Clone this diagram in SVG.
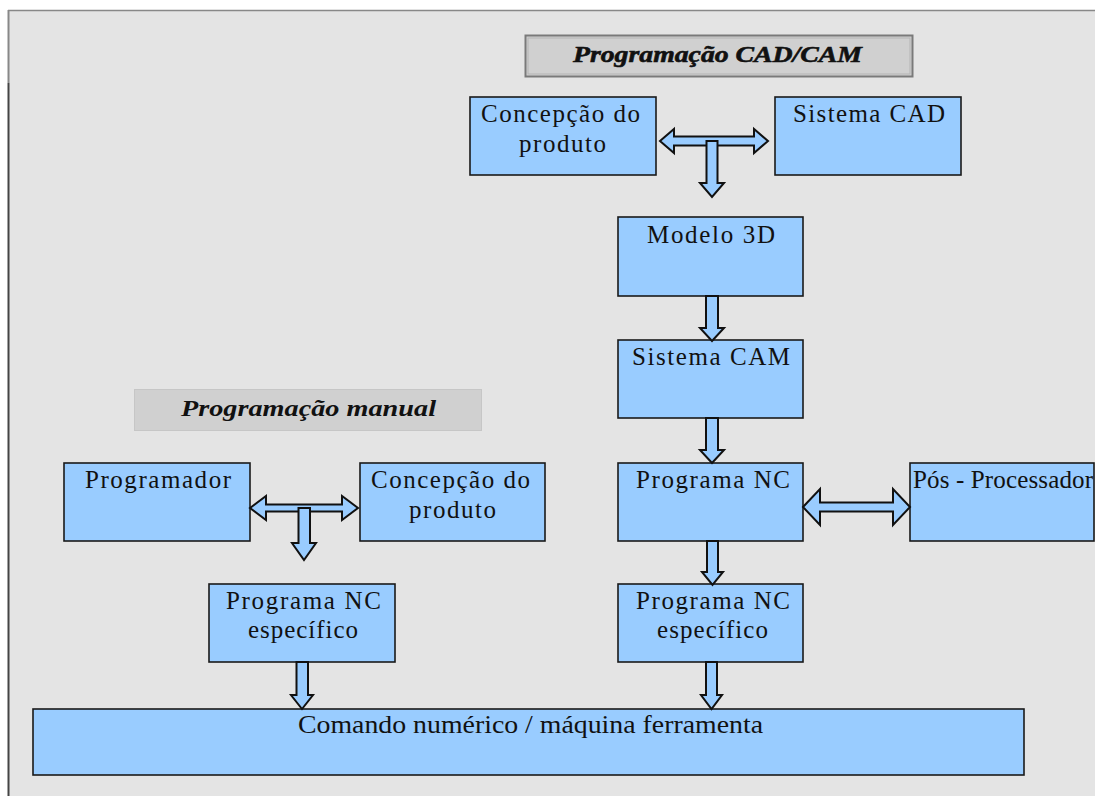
<svg xmlns="http://www.w3.org/2000/svg" width="1095" height="796" viewBox="0 0 1095 796">
<style>
.box{fill:#99ccff;stroke:#1a1a1a;stroke-width:1.6}
.arr{fill:#99ccff;stroke:#111;stroke-width:2;stroke-linejoin:miter}
.t{font-family:'Liberation Serif','DejaVu Serif',serif;font-size:25px;fill:#111}
.ti{font-family:'Liberation Serif','DejaVu Serif',serif;font-size:24px;font-style:italic;font-weight:bold;fill:#111}
</style>
<rect x="0" y="0" width="1095" height="796" fill="#ffffff"/>
<rect x="8" y="10" width="1087" height="786" fill="#e4e4e4"/>
<line x1="8" y1="10.5" x2="1095" y2="10.5" stroke="#888" stroke-width="1.5"/>
<line x1="8.5" y1="10" x2="8.5" y2="83" stroke="#888" stroke-width="2"/>
<line x1="8.5" y1="83" x2="8.5" y2="796" stroke="#444" stroke-width="2"/>

<g id="title-cadcam">
<rect x="525.5" y="35.5" width="387" height="41" fill="#d0d0d0" stroke="#7a7a7a" stroke-width="2"/>
<rect x="528" y="38" width="382" height="36" fill="none" stroke="#b4b4b4" stroke-width="1"/>
<text class="ti" x="573" y="62" textLength="289" lengthAdjust="spacingAndGlyphs" fill="#555" stroke="#111" stroke-width="0.6">Programação CAD/CAM</text>
</g>

<g id="title-manual">
<rect x="134.5" y="389.5" width="347" height="41" fill="#d0d0d0" stroke="#c6c6c6" stroke-width="1"/>
<text class="ti" x="181" y="416" textLength="255" lengthAdjust="spacingAndGlyphs">Programação manual</text>
</g>

<g id="concepcao-cad">
<rect class="box" x="470" y="97" width="186" height="78"/>
<text class="t" x="481" y="122" textLength="159" lengthAdjust="spacing">Concepção do</text>
<text class="t" x="519" y="152" textLength="87" lengthAdjust="spacing">produto</text>
</g>

<g id="sistema-cad">
<rect class="box" x="775" y="97" width="186" height="78"/>
<text class="t" x="793" y="122" textLength="152" lengthAdjust="spacing">Sistema CAD</text>
</g>

<g id="modelo-3d">
<rect class="box" x="618" y="217" width="185" height="79"/>
<text class="t" x="647" y="243" textLength="128" lengthAdjust="spacing">Modelo 3D</text>
</g>

<g id="sistema-cam">
<rect class="box" x="618" y="340" width="185" height="78"/>
<text class="t" x="632" y="365" textLength="158" lengthAdjust="spacing">Sistema CAM</text>
</g>

<g id="programa-nc">
<rect class="box" x="618" y="463" width="185" height="78"/>
<text class="t" x="636" y="488" textLength="154" lengthAdjust="spacing">Programa NC</text>
</g>

<g id="pos-processador">
<rect class="box" x="910" y="463" width="184" height="78"/>
<text class="t" x="913" y="488" textLength="180" lengthAdjust="spacing">Pós - Processador</text>
</g>

<g id="nc-especifico-cam">
<rect class="box" x="618" y="584" width="185" height="78"/>
<text class="t" x="636" y="609" textLength="154" lengthAdjust="spacing">Programa NC</text>
<text class="t" x="657" y="638" textLength="111" lengthAdjust="spacing">específico</text>
</g>

<g id="programador">
<rect class="box" x="64" y="463" width="186" height="78"/>
<text class="t" x="85" y="488" textLength="146" lengthAdjust="spacing">Programador</text>
</g>

<g id="concepcao-manual">
<rect class="box" x="360" y="463" width="185" height="78"/>
<text class="t" x="371" y="488" textLength="159" lengthAdjust="spacing">Concepção do</text>
<text class="t" x="409" y="518" textLength="87" lengthAdjust="spacing">produto</text>
</g>

<g id="nc-especifico-manual">
<rect class="box" x="209" y="584" width="186" height="78"/>
<text class="t" x="226" y="609" textLength="155" lengthAdjust="spacing">Programa NC</text>
<text class="t" x="248" y="638" textLength="110" lengthAdjust="spacing">específico</text>
</g>

<g id="comando-numerico">
<rect class="box" x="33" y="709" width="991" height="66"/>
<text class="t" x="298" y="733" textLength="465" lengthAdjust="spacingAndGlyphs">Comando numérico / máquina ferramenta</text>
</g>

<g id="connectors">
<path class="arr" d="M660,141 L674,129 L674,136.5 L754,136.5 L754,129 L768,141 L754,153 L754,145.5 L674,145.5 L674,153 Z"/>
<path class="arr" d="M706.5,141 L717.5,141 L717.5,183 L724,183 L712,197 L700,183 L706.5,183 Z"/>
<path class="arr" d="M706,296 L718,296 L718,328 L724,328 L712,341 L700,328 L706,328 Z"/>
<path class="arr" d="M706,418 L718,418 L718,450 L724,450 L712,463 L700,450 L706,450 Z"/>
<path class="arr" d="M707,541 L718,541 L718,572 L723,572 L712.5,585 L702,572 L707,572 Z"/>
<path class="arr" d="M803,507 L820,489 L820,502.5 L893,502.5 L893,489 L910,507 L893,525 L893,511.5 L820,511.5 L820,525 Z"/>
<path class="arr" d="M706,662 L717,662 L717,695 L722,695 L711.5,709 L701,695 L706,695 Z"/>
<path class="arr" d="M250,508 L266,496 L266,504.5 L342,504.5 L342,496 L358,508 L342,520 L342,511.5 L266,511.5 L266,520 Z"/>
<path class="arr" d="M298.5,508 L310,508 L310,543 L316,543 L304,560 L292,543 L298.5,543 Z"/>
<path class="arr" d="M296.5,662 L308,662 L308,695 L313,695 L302,709 L291,695 L296.5,695 Z"/>
</g>
</svg>
